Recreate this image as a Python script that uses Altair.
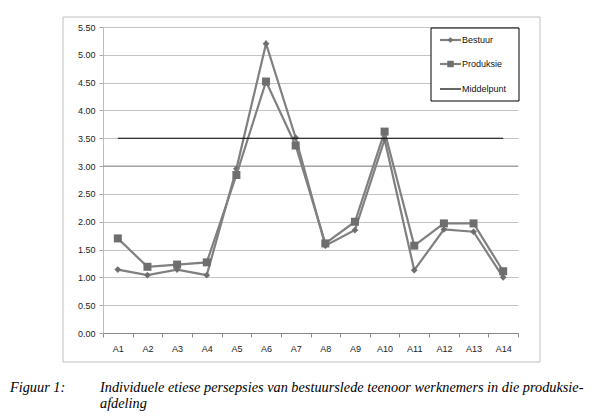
import altair as alt
import pandas as pd

categories = ["A1", "A2", "A3", "A4", "A5", "A6", "A7", "A8", "A9", "A10", "A11", "A12", "A13", "A14"]
bestuur = [1.14, 1.04, 1.14, 1.04, 2.95, 5.20, 3.51, 1.57, 1.85, 3.48, 1.13, 1.86, 1.82, 1.00]
produksie = [1.70, 1.19, 1.23, 1.27, 2.84, 4.52, 3.37, 1.61, 2.00, 3.62, 1.57, 1.97, 1.97, 1.11]
middelpunt = [3.5, 3.5, 3.5, 3.5, 3.5, 3.5, 3.5, 3.5, 3.5, 3.5, 3.5, 3.5, 3.5, 3.5]
y_ticks = [0.0, 0.5, 1.0, 1.5, 2.0, 2.5, 3.0, 3.5, 4.0, 4.5, 5.0, 5.5]
legend_labels = ["Bestuur", "Produksie", "Middelpunt"]
caption_label = "Figuur 1:"
caption_lines = ["Individuele etiese persepsies van bestuurslede teenoor werknemers in die produksie-",
                 "afdeling"]

df_b = pd.DataFrame({"cat": categories, "val": bestuur})
df_p = pd.DataFrame({"cat": categories, "val": produksie})
df_m = pd.DataFrame({"cat": categories, "val": middelpunt})
one = pd.DataFrame({"k": [0]})

W, H = 415, 306
LINE = "#808080"
MARK = "#6e6e6e"
FONT = "Liberation Sans"
SERIF = "Liberation Serif"

x_scale = alt.Scale(type="band", domain=categories, paddingInner=0, paddingOuter=0)
x_axis = alt.Axis(title=None, tickBand="extent", labelAngle=0, labelFontSize=9,
                  labelFont=FONT, labelColor="#222", tickSize=4, tickColor="#888",
                  domainColor="#888", labelPadding=7, grid=False, labelOverlap=False)
y_scale = alt.Scale(domain=[0, 5.5], nice=False, zero=True)
y_axis = alt.Axis(title=None, values=y_ticks, format=".2f", labelFontSize=9,
                  labelFont=FONT, labelColor="#222", tickSize=4, tickColor="#aaa",
                  domainColor="#bbb", gridColor="#c4c4c4", labelPadding=4,
                  labelOverlap=False)

X = alt.X("cat:N", sort=categories, bandPosition=0.5, scale=x_scale, axis=x_axis)
Y = alt.Y("val:Q", scale=y_scale, axis=y_axis)

frame = alt.Chart(one).mark_rect(fillOpacity=0, stroke="#c0c0c0", strokeWidth=1).encode(
    x=alt.value(-40), x2=alt.value(437), y=alt.value(-10), y2=alt.value(335))

grid3 = alt.Chart(one).mark_rule(color="#8c8c8c", strokeWidth=1).encode(
    y=alt.YDatum(3.0, scale=y_scale, axis=y_axis), x=alt.value(0), x2=alt.value(W))

line_b = alt.Chart(df_b).mark_line(color=LINE, strokeWidth=2.2).encode(x=X, y=Y)
pts_b = alt.Chart(df_b).mark_point(shape="diamond", filled=True, size=45, color=MARK, opacity=1).encode(x=X, y=Y)
line_p = alt.Chart(df_p).mark_line(color=LINE, strokeWidth=2.2).encode(x=X, y=Y)
pts_p = alt.Chart(df_p).mark_point(shape="square", filled=True, size=64, color=MARK, opacity=1).encode(x=X, y=Y)
line_m = alt.Chart(df_m).mark_line(color="black", strokeWidth=1.2).encode(x=X, y=Y)

# legend
LX0, LY0, LX1, LY1 = 328, 1, 416, 74
leg_box = alt.Chart(one).mark_rect(fill="white", stroke="black", strokeWidth=1).encode(
    x=alt.value(LX0), x2=alt.value(LX1), y=alt.value(LY0), y2=alt.value(LY1))
leg_layers = [leg_box]
rows_y = [13, 37, 62]
for i, lab in enumerate(legend_labels):
    yy = rows_y[i]
    col = LINE if i < 2 else "black"
    sw = 2.2 if i < 2 else 1.2
    leg_layers.append(alt.Chart(one).mark_rule(color=col, strokeWidth=sw).encode(
        x=alt.value(337), x2=alt.value(358), y=alt.value(yy)))
    if i == 0:
        leg_layers.append(alt.Chart(one).mark_point(shape="diamond", filled=True, size=30,
                                                    color=MARK, opacity=1).encode(
            x=alt.value(347.5), y=alt.value(yy)))
    elif i == 1:
        leg_layers.append(alt.Chart(one).mark_point(shape="square", filled=True, size=42,
                                                    color=MARK, opacity=1).encode(
            x=alt.value(347.5), y=alt.value(yy)))
    leg_layers.append(alt.Chart(one).mark_text(text=lab, align="left", baseline="middle",
                                               fontSize=9, font=FONT, color="#111").encode(
        x=alt.value(359), y=alt.value(yy)))

def cap(txt, x, y):
    return alt.Chart(one).mark_text(text=txt, align="left", baseline="alphabetic",
                                    font=SERIF, fontStyle="italic", fontSize=14.3,
                                    color="black").encode(x=alt.value(x), y=alt.value(y))

cap1 = cap(caption_label, -93, 365)
cap2 = cap(caption_lines[0], -3, 365)
cap3 = cap(caption_lines[1], -3, 381)

chart = alt.layer(
    frame, line_b, grid3, pts_b, line_p, pts_p, line_m, *leg_layers, cap1, cap2, cap3
).properties(
    width=W, height=H,
    autosize=alt.AutoSizeParams(type="none"),
    padding={"left": 95, "top": 19, "right": 76, "bottom": 79},
    background="white",
).configure_view(strokeWidth=0)

chart.save("out.html", embed_options={"renderer": "svg", "actions": False})
